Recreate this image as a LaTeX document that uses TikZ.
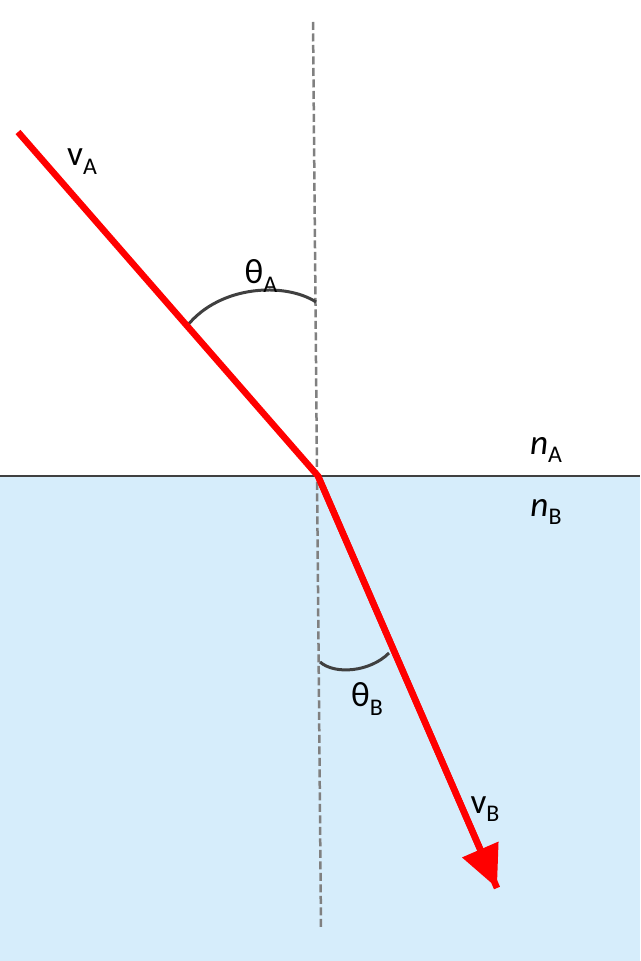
\documentclass[tikz,border=0pt]{standalone}
\usepackage{fontspec}
\setmainfont{Carlito}
\usetikzlibrary{arrows.meta}
\definecolor{waterblue}{RGB}{214,237,251}
\definecolor{raycolor}{RGB}{255,0,0}
\definecolor{darkline}{RGB}{64,64,64}
\definecolor{normalgray}{RGB}{128,128,128}
\newcommand{\lowsub}[1]{\raisebox{-2.5pt}{\fontsize{6.8}{8}\selectfont #1}}

\begin{document}
\begin{tikzpicture}[
    x=0.1mm, y=-0.1mm,
    ray/.style={draw=raycolor, line width=0.65mm},
    angarc/.style={draw=darkline, line width=0.3mm},
    normalline/.style={draw=normalgray, line width=0.25mm, dash pattern=on 0.8mm off 0.35mm},
    lbl/.style={font=\fontsize{10}{12}\selectfont, inner sep=0pt}
]
    \useasboundingbox (0,0) rectangle (640,961);

    % Media
    \fill[waterblue] (0,476) rectangle (640,961);
    \coordinate (ntop) at (313,22);
    \coordinate (nbot) at (321,928);
    \draw[normalline] (ntop) -- (nbot);
    \coordinate (left) at (0,476);
    \coordinate (right) at (640,476);
    \draw[darkline, line width=0.25mm] (left) -- (right);

    % Angles
    \draw[angarc] (187,326) .. controls (220,285) and (285,282) .. (316,302);
    \draw[angarc] (320,662) .. controls (335,675) and (370,672) .. (389,653);

    % Rays
    \coordinate (src) at (18,132);
    \coordinate (O) at (318,476);
    \coordinate (tip) at (497,888);
    \draw[ray, line join=miter] (src) -- (O) -- (tip);
    \draw[ray, -{Triangle[length=4.2mm, width=3.8mm]}] (O) -- (tip);

    % Labels
    \node[lbl] (vA) at (82,162) {v\lowsub{A}};
    \node[lbl] (thA) at (261,276) {θ\lowsub{A}};
    \node[lbl] (nA) at (546,450) {\textit{n}\lowsub{A}};
    \node[lbl] (nB) at (546,512) {\textit{n}\lowsub{B}};
    \node[lbl] (thB) at (367,699) {θ\lowsub{B}};
    \node[lbl] (vB) at (485,809) {v\lowsub{B}};
\end{tikzpicture}
\end{document}
